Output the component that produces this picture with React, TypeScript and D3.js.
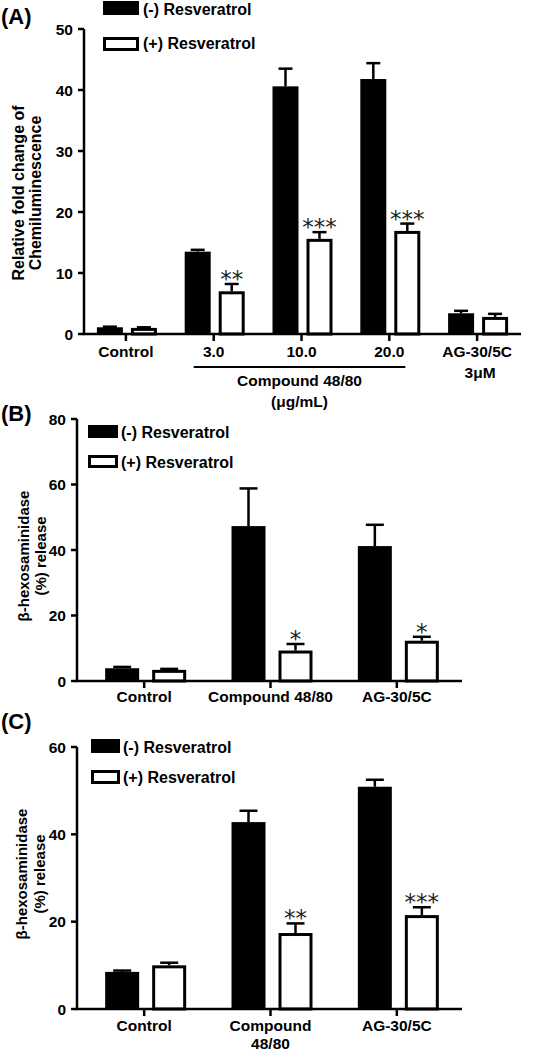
import React from "react";
import * as d3 from "d3";

// ---------- data ----------
const categoriesA = ["Control", "3.0", "10.0", "20.0", "AG-30/5C"];
const minusA = [1.1, 13.5, 40.6, 41.8, 3.4];
const minusErrA = [0.1, 0.3, 2.9, 2.6, 0.4];
const plusA = [1.0, 7.0, 15.6, 16.9, 2.8];
const plusErrA = [0.1, 1.2, 1.1, 1.2, 0.5];
const starsA = ["", "**", "***", "***", ""];
const ticksA = [0, 10, 20, 30, 40, 50];

const categoriesB = ["Control", "Compound 48/80", "AG-30/5C"];
const minusB = [3.9, 47.3, 41.2];
const minusErrB = [0.4, 11.5, 6.5];
const plusB = [3.4, 9.3, 12.3];
const plusErrB = [0.3, 2.0, 1.2];
const starsB = ["", "*", "*"];
const ticksB = [0, 20, 40, 60, 80];

const categoriesC = ["Control", "Compound\n48/80", "AG-30/5C"];
const minusC = [8.5, 42.8, 50.9];
const minusErrC = [0.3, 2.6, 1.6];
const plusC = [10.0, 17.4, 21.5];
const plusErrC = [0.6, 2.2, 1.8];
const starsC = ["", "**", "***"];
const ticksC = [0, 20, 40, 60];

const legendLabels = ["(-) Resveratrol", "(+) Resveratrol"];

const FONT = "'Liberation Sans', Arial, Helvetica, sans-serif";
const STAR_FONT = "'DejaVu Sans', sans-serif";

type PanelProps = {
  label: string;
  labelPos: [number, number];
  cats: string[];
  minus: number[];
  minusErr: number[];
  plus: number[];
  plusErr: number[];
  stars: string[];
  ticks: number[];
  axisX: number;
  xEnd: number;
  band: [number, number];
  yRange: [number, number];
  barW: number;
  blackOff: number;
  whiteOff: number;
  catLabelY: number;
  legendX: number;
  legendY: [number, number];
  legendTextX: number;
  legendBase: [number, number];
  legendW: number;
  legendH: number;
  yLabel: string[];
  yLabelX: [number, number];
  yLabelCY: number;
  yLabelSize: number;
  capW: number;
};

function Panel(p: PanelProps) {
  const y = d3
    .scaleLinear()
    .domain([0, p.ticks[p.ticks.length - 1]])
    .range(p.yRange);
  const x = d3.scaleBand<string>().domain(p.cats).range(p.band).padding(0);
  const bw = x.bandwidth();
  const cx = (c: string) => (x(c) as number) + bw / 2;
  const y0 = y(0);
  const yTop = y(p.ticks[p.ticks.length - 1]);

  return (
    <g fontFamily={FONT} fontWeight="bold">
      <text x={p.labelPos[0]} y={p.labelPos[1]} fontSize={22}>
        {p.label}
      </text>
      {/* legend */}
      <rect
        x={p.legendX}
        y={p.legendY[0]}
        width={p.legendW}
        height={p.legendH}
        fill="#000"
      />
      <rect
        x={p.legendX + 1.5}
        y={p.legendY[1] + 1.5}
        width={p.legendW - 3}
        height={p.legendH - 3}
        fill="#fff"
        stroke="#000"
        strokeWidth={3}
      />
      <text x={p.legendTextX} y={p.legendBase[0]} fontSize={16}>
        {legendLabels[0]}
      </text>
      <text x={p.legendTextX} y={p.legendBase[1]} fontSize={16}>
        {legendLabels[1]}
      </text>

      {/* y label */}
      {p.yLabel.map((t, i) => (
        <text
          key={i}
          transform={`translate(${p.yLabelX[i]},${p.yLabelCY}) rotate(-90)`}
          textAnchor="middle"
          fontSize={p.yLabelSize}
        >
          {t}
        </text>
      ))}

      {/* bars */}
      {p.cats.map((c, i) => {
        const c0 = cx(c);
        const bx = c0 + p.blackOff;
        const wx = c0 + p.whiteOff;
        const bTop = y(p.minus[i]);
        const bErr = y(p.minus[i] + p.minusErr[i]);
        const wTop = y(p.plus[i]);
        const wErr = y(p.plus[i] + p.plusErr[i]);
        const bc = bx + p.barW / 2;
        const wc = wx + p.barW / 2;
        return (
          <g key={c}>
            <line x1={bc} x2={bc} y1={bTop} y2={bErr} stroke="#000" strokeWidth={2.5} />
            <line
              x1={bc - p.capW / 2}
              x2={bc + p.capW / 2}
              y1={bErr}
              y2={bErr}
              stroke="#000"
              strokeWidth={2.5}
            />
            <rect x={bx} y={bTop} width={p.barW} height={y0 - bTop} fill="#000" />
            <line x1={wc} x2={wc} y1={wTop} y2={wErr} stroke="#000" strokeWidth={2.5} />
            <line
              x1={wc - p.capW / 2}
              x2={wc + p.capW / 2}
              y1={wErr}
              y2={wErr}
              stroke="#000"
              strokeWidth={2.5}
            />
            <rect
              x={wx + 1.5}
              y={wTop + 1.5}
              width={p.barW - 3}
              height={Math.max(0, y0 - wTop - 1.5)}
              fill="#fff"
              stroke="#000"
              strokeWidth={3}
            />
            {p.stars[i] && (
              <text
                x={wc}
                y={wErr + 3}
                textAnchor="middle"
                fontFamily={STAR_FONT}
                fontWeight="normal"
                fontSize={23}
                fill="#222"
              >
                {p.stars[i]}
              </text>
            )}
          </g>
        );
      })}

      {/* y axis */}
      <line x1={p.axisX} x2={p.axisX} y1={yTop} y2={y0} stroke="#000" strokeWidth={2.5} />
      {p.ticks.map((t) => (
        <g key={t}>
          <line
            x1={p.axisX - 6}
            x2={p.axisX}
            y1={y(t)}
            y2={y(t)}
            stroke="#000"
            strokeWidth={2.5}
          />
          <text
            x={p.axisX - 11}
            y={y(t)}
            dy="0.36em"
            textAnchor="end"
            fontSize={15.5}
          >
            {t}
          </text>
        </g>
      ))}
      {/* x axis */}
      <line x1={p.axisX - 1.25} x2={p.xEnd} y1={y0} y2={y0} stroke="#000" strokeWidth={2.5} />
      {p.cats.map((c) => (
        <g key={"t" + c}>
          <line x1={cx(c)} x2={cx(c)} y1={y0} y2={y0 + 7} stroke="#000" strokeWidth={2.5} />
          {c.split("\n").map((ln, j) => (
            <text
              key={j}
              x={cx(c)}
              y={p.catLabelY + j * 18}
              textAnchor="middle"
              fontSize={15.5}
            >
              {ln}
            </text>
          ))}
        </g>
      ))}
    </g>
  );
}

const BAND_A: [number, number] = [82, 521];

export default function App() {
  // dose bracket for panel A, positioned from the same band scale
  const xA = d3.scaleBand<string>().domain(categoriesA).range(BAND_A).padding(0);
  const cA = (c: string) => (xA(c) as number) + xA.bandwidth() / 2;
  const bracketX1 = cA(categoriesA[1]) - 20;
  const bracketX2 = cA(categoriesA[3]) + 16;
  const bracketMid = cA(categoriesA[2]) - 2;

  return (
    <svg
      width={544}
      height={1050}
      style={{ position: "absolute", left: 0, top: 0, background: "#fff" }}
    >
      <rect width={544} height={1050} fill="#fff" />
      <Panel
        label="(A)"
        labelPos={[1, 24]}
        cats={categoriesA}
        minus={minusA}
        minusErr={minusErrA}
        plus={plusA}
        plusErr={plusErrA}
        stars={starsA}
        ticks={ticksA}
        axisX={84}
        xEnd={521}
        band={BAND_A}
        yRange={[334, 29]}
        barW={26}
        blackOff={-29}
        whiteOff={5}
        catLabelY={357}
        legendX={103}
        legendY={[1, 37]}
        legendTextX={143}
        legendBase={[15, 49]}
        legendW={36}
        legendH={14}
        yLabel={["Relative fold change of", "Chemiluminescence"]}
        yLabelX={[24, 41]}
        yLabelCY={193}
        yLabelSize={16}
        capW={14}
      />
      <g fontFamily={FONT} fontWeight="bold" fontSize={15.5}>
        <line x1={bracketX1} x2={bracketX2} y1={367} y2={367} stroke="#000" strokeWidth={2} />
        <text x={bracketMid} y={386} textAnchor="middle">
          Compound 48/80
        </text>
        <text x={bracketMid} y={407} textAnchor="middle">
          (μg/mL)
        </text>
        <text x={cA(categoriesA[4]) + 3} y={378} textAnchor="middle">
          3μM
        </text>
      </g>
      <Panel
        label="(B)"
        labelPos={[1, 421]}
        cats={categoriesB}
        minus={minusB}
        minusErr={minusErrB}
        plus={plusB}
        plusErr={plusErrB}
        stars={starsB}
        ticks={ticksB}
        axisX={77}
        xEnd={462}
        band={[81, 460]}
        yRange={[681, 419]}
        barW={34}
        blackOff={-39}
        whiteOff={8}
        catLabelY={702}
        legendX={88}
        legendY={[425, 455]}
        legendTextX={121}
        legendBase={[438, 468]}
        legendW={30}
        legendH={13}
        yLabel={["β-hexosaminidase", "(%) release"]}
        yLabelX={[29, 46]}
        yLabelCY={556}
        yLabelSize={15}
        capW={18}
      />
      <Panel
        label="(C)"
        labelPos={[1, 729]}
        cats={categoriesC}
        minus={minusC}
        minusErr={minusErrC}
        plus={plusC}
        plusErr={plusErrC}
        stars={starsC}
        ticks={ticksC}
        axisX={77}
        xEnd={462}
        band={[81, 460]}
        yRange={[1009, 747]}
        barW={34}
        blackOff={-39}
        whiteOff={8}
        catLabelY={1031}
        legendX={91}
        legendY={[739, 770]}
        legendTextX={123}
        legendBase={[753, 783]}
        legendW={29}
        legendH={14}
        yLabel={["β-hexosaminidase", "(%) release"]}
        yLabelX={[27, 45]}
        yLabelCY={874}
        yLabelSize={15}
        capW={18}
      />
    </svg>
  );
}
